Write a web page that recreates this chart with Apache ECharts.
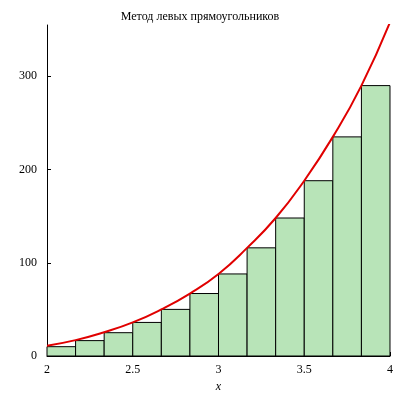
<!DOCTYPE html>
<html><head><meta charset="utf-8">
<script src="https://cdn.jsdelivr.net/npm/echarts@6/dist/echarts.min.js"></script>
<style>html,body{margin:0;background:#fff}#c{width:400px;height:400px}</style>
</head><body><div id="c"></div>
<script>
const leftEdges=[2,2.1667,2.3333,2.5,2.6667,2.8333,3,3.1667,3.3333,3.5,3.6667,3.8333];
const barHeights=[10,16.5,25,36,50,67,88,116,148,188,235,290];
const curveX=[2,2.1667,2.3333,2.5,2.6667,2.8333,3,3.1667,3.3333,3.5,3.6667,3.8333,4];
const curveY=[11,17,25.5,36,50,67,88,116,148,188,235,290,358];
const width=1/6;
const ch=echarts.init(document.getElementById('c'));
const f="Liberation Serif";
ch.setOption({
 animation:false,
 title:{text:'Метод левых прямоугольников',left:'center',top:6,textStyle:{fontFamily:f,fontSize:12,fontWeight:'normal',color:'#000'}},
 grid:{left:47,right:10,top:25,bottom:44},
 xAxis:{type:'value',min:2,max:4,interval:0.5,name:'x',nameLocation:'middle',nameGap:20,
  nameTextStyle:{fontFamily:f,fontStyle:'italic',fontSize:12,color:'#000'},
  axisLine:{lineStyle:{color:'#000'}},axisTick:{inside:true,length:4,lineStyle:{color:'#000'}},
  axisLabel:{fontFamily:f,fontSize:12,color:'#000',margin:8},splitLine:{show:false}},
 yAxis:{type:'value',min:0,max:355,interval:100,
  axisLine:{show:true,lineStyle:{color:'#000'}},axisTick:{show:true,inside:true,length:4,lineStyle:{color:'#000'}},
  axisLabel:{fontFamily:f,fontSize:12,color:'#000',margin:10,showMaxLabel:false},splitLine:{show:false}},
 series:[
  {type:'custom',data:leftEdges.map((x,i)=>[x,x+width,barHeights[i]]),
   encode:{x:[0,1],y:2},
   renderItem:function(params,api){
     const p0=api.coord([api.value(0),api.value(2)]);
     const p1=api.coord([api.value(1),0]);
     return {type:'rect',shape:{x:p0[0],y:p0[1],width:p1[0]-p0[0],height:p1[1]-p0[1]},
       style:{fill:'#b8e4b8',stroke:'#000',lineWidth:1}};
   }},
  {type:'line',data:curveX.map((x,i)=>[x,curveY[i]]),smooth:true,symbol:'none',
   lineStyle:{color:'#e00000',width:2},z:5}
 ]
});
</script></body></html>
